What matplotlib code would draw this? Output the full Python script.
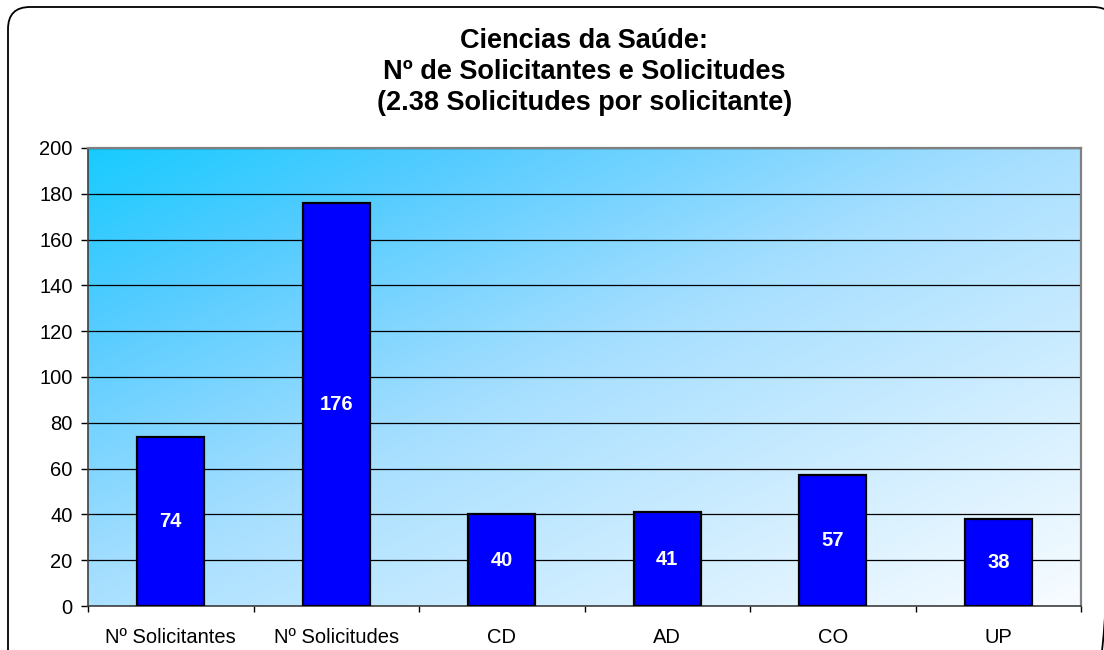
import numpy as np
import matplotlib
matplotlib.use("Agg")
from matplotlib import pyplot as plt
from matplotlib.patches import FancyBboxPatch
from matplotlib.colors import LinearSegmentedColormap

categories = ["Nº Solicitantes", "Nº Solicitudes", "CD", "AD", "CO", "UP"]
values = [74, 176, 40, 41, 57, 38]
yticks = [0, 20, 40, 60, 80, 100, 120, 140, 160, 180, 200]
title = "Ciencias da Saúde:\nNº de Solicitantes e Solicitudes\n(2.38 Solicitudes por solicitante)"

plt.rcParams["font.family"] = ["Liberation Sans", "DejaVu Sans"]

W, H = 1104, 650
fig = plt.figure(figsize=(W / 100, H / 100), dpi=100)

# pixel-space background axes for the rounded outer frame
bg = fig.add_axes([0, 0, 1, 1], zorder=-5)
bg.set_xlim(0, W)
bg.set_ylim(H, 0)
bg.axis("off")
frame = FancyBboxPatch((8, 7), 1107, 680, boxstyle="round,pad=0,rounding_size=22",
                       fill=False, edgecolor="black", linewidth=1.3)
bg.add_patch(frame)

ax = fig.add_axes([88 / W, 1 - 606 / H, (1081 - 88) / W, (606 - 148) / H])

# diagonal gradient background (cyan top-left -> white bottom-right)
grad = LinearSegmentedColormap.from_list(
    "bg", [(0.0, "#18ccff"), (0.18, "#50cbff"), (0.44, "#9cdcff"),
           (0.5, "#aae0ff"), (1.0, "#f8fcff")])
nx, ny = 400, 200
gx, gy = np.meshgrid(np.linspace(0, 1, nx), np.linspace(0, 1, ny))
t = (gx + gy) / 2
ax.imshow(grad(t), extent=[0, 1, 0, 1], transform=ax.transAxes, aspect="auto",
          zorder=0, interpolation="bilinear")

x = np.arange(len(categories))
ax.bar(x, values, width=0.405, color="#0000ff", edgecolor="black",
       linewidth=1.6, zorder=3)
for xi, v in zip(x, values):
    ax.text(xi, v / 2, str(v), ha="center", va="center", color="white",
            fontsize=14.5, fontweight="bold", zorder=4)

ax.set_xlim(-0.5, len(categories) - 0.5)
ax.set_ylim(0, 200)
ax.set_yticks(yticks)
ax.tick_params(axis="y", labelsize=14.5, length=5, direction="out", width=1,
               colors="black", pad=6)
ax.set_xticks(x)
ax.set_xticklabels(categories)
ax.set_xticks(np.arange(len(categories) + 1) - 0.5, minor=True)
ax.tick_params(axis="x", which="major", length=0, labelsize=14.5, pad=16)
ax.tick_params(axis="x", which="minor", length=4.5, width=1)
ax.yaxis.grid(True, color="black", linewidth=0.9, zorder=1)
ax.set_axisbelow(True)
for s in ["top", "right"]:
    ax.spines[s].set_color("#808080")
    ax.spines[s].set_linewidth(1.6)
for s in ["left", "bottom"]:
    ax.spines[s].set_color("#404040")
    ax.spines[s].set_linewidth(1.2)

fig.text(0.5 * (88 + 1081) / W, 1 - 72 / H, title, ha="center", va="center",
         fontsize=19.5, fontweight="bold", linespacing=1.27)

fig.savefig("out.png", dpi=100)
